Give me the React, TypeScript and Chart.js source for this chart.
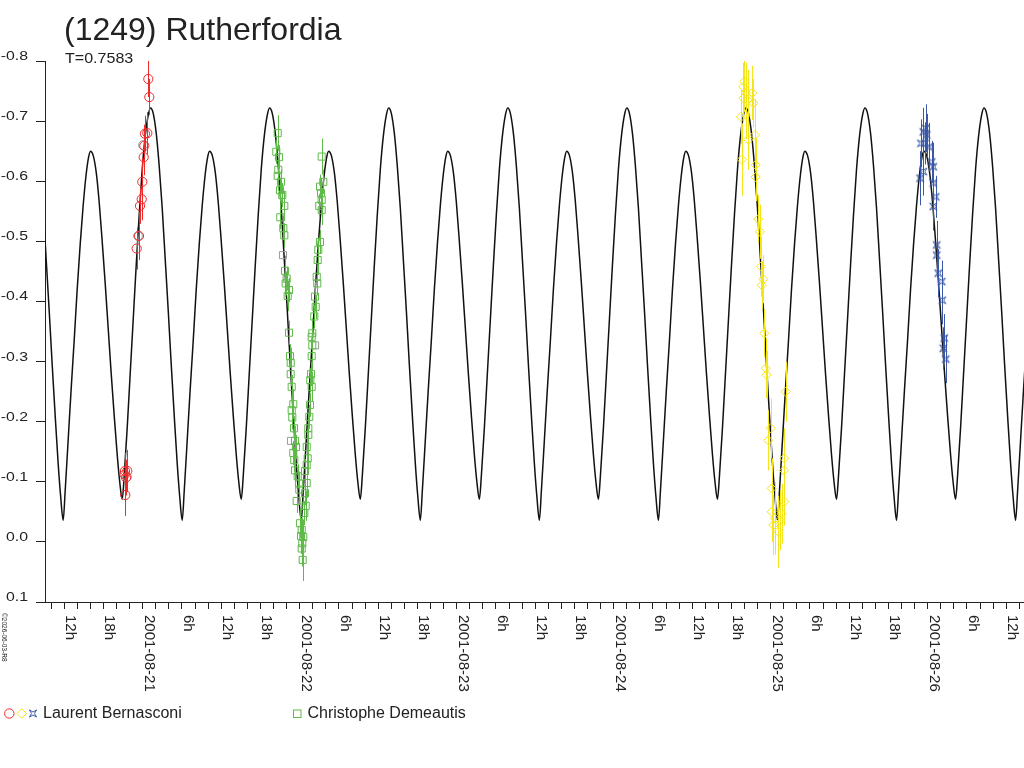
import React, { useEffect, useRef } from "react";
import { Chart, registerables } from "chart.js";

Chart.register(...registerables);

// ---------- texts ----------
const TITLE = "(1249) Rutherfordia";
const PERIOD_LABEL = "T=0.7583";
const OBSERVER_1 = "Laurent Bernasconi";
const OBSERVER_2 = "Christophe Demeautis";
const STAMP = "©2026-06-03-R8";
const DATE_PREFIX = "2001-08-";

// ---------- axes (x in days of August 2001, UT) ----------
const X_MIN = 20.3777;
const X_MAX = 26.6134;
const X_TICK_STEP_HOURS = 2;
const X_LABEL_EVERY_HOURS = 6;
const Y_MIN = -0.8;
const Y_MAX = 0.1;
const Y_TICKS = [-0.8, -0.7, -0.6, -0.5, -0.4, -0.3, -0.2, -0.1, 0.0, 0.1];
const Y_TICK_LABELS = ["-0.8", "-0.7", "-0.6", "-0.5", "-0.4", "-0.3", "-0.2", "-0.1", "0.0", "0.1"];

// ---------- fitted lightcurve: one-period profile ----------
const PERIOD = 0.7583; // days
const EPOCH = 20.4935; // a deep minimum
const CYCLE_FIRST = -1;
const CYCLE_LAST = 8;
const CURVE_PHASE = [
  0, 0.0168, 0.042, 0.0672, 0.0924, 0.1176, 0.1429, 0.168, 0.1933, 0.2143, 0.2294,
  0.2521, 0.2773, 0.3025, 0.3277, 0.3529, 0.3782, 0.4034, 0.4286, 0.4538, 0.4748, 0.4958,
  0.5126, 0.5378, 0.563, 0.5882, 0.6134, 0.6387, 0.6639, 0.6891, 0.7143, 0.7336,
  0.7563, 0.7815, 0.8067, 0.8319, 0.8571, 0.8824, 0.9076, 0.9328, 0.958, 0.979,
];
const CURVE_MAG = [
  -0.036, -0.085, -0.17, -0.255, -0.335, -0.42, -0.495, -0.56, -0.612, -0.641, -0.65,
  -0.643, -0.615, -0.565, -0.5, -0.43, -0.355, -0.28, -0.21, -0.145, -0.1, -0.071,
  -0.11, -0.19, -0.28, -0.37, -0.46, -0.545, -0.62, -0.675, -0.71, -0.722,
  -0.713, -0.68, -0.625, -0.555, -0.47, -0.385, -0.295, -0.21, -0.13, -0.075,
];

// ---------- observations: Laurent Bernasconi (red session) ----------
const RED_T = [21.0357, 21.042, 21.0293, 21.0146, 21.0102, 21.0064, 20.9975, 20.9936, 20.9828, 20.9764, 20.9618, 20.8873, 20.9019, 20.8936, 20.8892, 20.885];
const RED_MAG = [-0.77, -0.74, -0.68, -0.679, -0.659, -0.64, -0.599, -0.57, -0.559, -0.509, -0.488, -0.118, -0.118, -0.107, -0.078, -0.112];
const RED_ERR = [0.03, 0.03, 0.035, 0.03, 0.035, 0.03, 0.04, 0.035, 0.03, 0.04, 0.035, 0.03, 0.035, 0.03, 0.035, 0.03];

// ---------- Laurent Bernasconi (yellow session) ----------
const YELLOW_T = [24.8318, 24.8255, 24.8408, 24.8828, 24.8255, 24.8535, 24.8892, 24.8108, 24.8408, 24.8573, 24.9, 24.8153, 24.9045, 24.9045, 24.921, 24.9318, 24.9382, 24.9529, 24.9427, 24.9592, 24.9682, 24.9745, 25.0955, 25.0, 24.9847, 25.0866, 25.0847, 25.0064, 25.0866, 25.0701, 25.0064, 25.0274, 25.0166, 25.0484, 25.0592];
const YELLOW_MAG = [-0.766, -0.757, -0.747, -0.747, -0.738, -0.735, -0.73, -0.707, -0.71, -0.669, -0.677, -0.636, -0.627, -0.607, -0.537, -0.516, -0.458, -0.437, -0.427, -0.347, -0.289, -0.278, -0.25, -0.189, -0.169, -0.139, -0.119, -0.089, -0.067, -0.047, -0.05, -0.039, -0.028, -0.017, -0.036];
const YELLOW_ERR = [0.05, 0.04, 0.05, 0.045, 0.04, 0.05, 0.04, 0.045, 0.04, 0.05, 0.06, 0.06, 0.045, 0.04, 0.04, 0.045, 0.05, 0.04, 0.04, 0.04, 0.05, 0.04, 0.05, 0.05, 0.05, 0.05, 0.04, 0.05, 0.04, 0.05, 0.05, 0.06, 0.05, 0.06, 0.05];

// ---------- Laurent Bernasconi (blue session) ----------
const BLUE_T = [25.972, 25.9873, 25.9936, 25.9573, 25.9828, 26.0083, 26.0255, 26.0357, 25.951, 25.972, 26.0357, 26.051, 26.0357, 26.0573, 26.0573, 26.0675, 26.0892, 26.093, 26.1057, 26.0994, 26.1146];
const BLUE_MAG = [-0.682, -0.688, -0.677, -0.663, -0.663, -0.657, -0.632, -0.624, -0.605, -0.616, -0.597, -0.574, -0.558, -0.494, -0.477, -0.447, -0.433, -0.402, -0.339, -0.322, -0.304];
const BLUE_ERR = [0.04, 0.04, 0.035, 0.04, 0.035, 0.04, 0.035, 0.04, 0.045, 0.04, 0.04, 0.035, 0.04, 0.04, 0.035, 0.04, 0.035, 0.04, 0.04, 0.035, 0.04];

// ---------- Christophe Demeautis (green) ----------
const GREEN_T = [21.8599, 21.851, 21.8682, 21.8637, 21.8599, 21.8809, 21.8745, 21.8892, 21.9019, 21.8764, 21.8955, 21.9019, 21.9064, 21.9172, 21.9108, 21.9318, 21.9236, 21.9318, 21.9382, 21.9427, 21.9427, 21.949, 21.9592, 21.949, 21.9529, 21.9637, 21.9701, 21.9764, 21.9592, 21.9656, 21.9701, 21.9873, 21.9955, 21.9975, 21.9809, 22.0019, 22.0127, 22.0083, 22.0166, 22.0127, 22.0191, 22.0229, 22.0293, 22.0382, 22.0338, 22.0446, 22.0338, 22.0446, 22.051, 22.0446, 22.0548, 22.0548, 22.0611, 22.0656, 22.0764, 22.0675, 22.072, 22.0764, 22.0803, 22.0764, 22.0803, 22.093, 22.1019, 22.0975, 22.1121, 22.1083, 22.1146, 22.1185, 22.1293, 22.1401, 22.1248, 22.1401, 22.1357, 22.1293, 22.1503, 22.1401];
const GREEN_MAG = [-0.68, -0.649, -0.64, -0.619, -0.609, -0.599, -0.585, -0.577, -0.559, -0.54, -0.522, -0.51, -0.451, -0.438, -0.43, -0.419, -0.409, -0.348, -0.309, -0.298, -0.279, -0.258, -0.229, -0.219, -0.207, -0.189, -0.168, -0.158, -0.148, -0.136, -0.119, -0.109, -0.097, -0.087, -0.068, -0.031, -0.02, -0.01, 0.002, 0.011, 0.03, -0.008, -0.048, -0.06, -0.081, -0.098, -0.118, -0.128, -0.139, -0.158, -0.178, -0.189, -0.208, -0.228, -0.258, -0.269, -0.279, -0.309, -0.327, -0.341, -0.347, -0.375, -0.391, -0.408, -0.43, -0.441, -0.469, -0.486, -0.499, -0.552, -0.559, -0.569, -0.58, -0.591, -0.599, -0.641];
const GREEN_ERR = [0.03, 0.02, 0.02, 0.02, 0.025, 0.02, 0.02, 0.02, 0.025, 0.02, 0.02, 0.02, 0.025, 0.02, 0.02, 0.02, 0.025, 0.02, 0.02, 0.025, 0.02, 0.02, 0.025, 0.02, 0.02, 0.02, 0.025, 0.02, 0.02, 0.02, 0.025, 0.02, 0.02, 0.025, 0.02, 0.025, 0.02, 0.03, 0.025, 0.03, 0.035, 0.025, 0.02, 0.025, 0.02, 0.025, 0.02, 0.02, 0.025, 0.02, 0.02, 0.025, 0.02, 0.02, 0.025, 0.02, 0.02, 0.025, 0.02, 0.02, 0.025, 0.02, 0.02, 0.025, 0.02, 0.02, 0.025, 0.02, 0.02, 0.025, 0.02, 0.02, 0.025, 0.02, 0.02, 0.03];

// ---------- grey (secondary) points ----------
const GREY_CIRCLE_T = [21.0019, 20.9701, 20.9];
const GREY_CIRCLE_MAG = [-0.66, -0.509, -0.108];
const GREY_SQUARE_T = [21.8936, 21.9446, 22.0981];
const GREY_SQUARE_MAG = [-0.477, -0.168, -0.327];

// ---------- style ----------
const FONT = '"Liberation Sans", Arial, Helvetica, sans-serif';
const TEXT = "#222";
const RED = "#ee2b2b";
const YELLOW = "#f4e41a";
const BLUE = "#3a58a8";
const GREEN = "#5fba4a";
const GREY = "#9a9a9a";

const toPoints = (t: number[], m: number[]) => t.map((x, i) => ({ x, y: m[i] }));

function buildCurve() {
  const pts: { x: number; y: number }[] = [];
  for (let k = CYCLE_FIRST; k <= CYCLE_LAST; k++) {
    CURVE_PHASE.forEach((ph, i) => pts.push({ x: EPOCH + (k + ph) * PERIOD, y: CURVE_MAG[i] }));
  }
  pts.push({ x: EPOCH + (CYCLE_LAST + 1) * PERIOD, y: CURVE_MAG[0] });
  return pts;
}

function makeStar(color: string, r: number) {
  const size = Math.ceil(r * 2 + 3);
  const c = document.createElement("canvas");
  c.width = size;
  c.height = size;
  const g = c.getContext("2d")!;
  const cx = size / 2;
  const cy = size / 2;
  const k = r * 0.4;
  g.strokeStyle = color;
  g.lineWidth = 1;
  g.beginPath();
  g.moveTo(cx - r, cy - r);
  g.lineTo(cx, cy - k);
  g.lineTo(cx + r, cy - r);
  g.lineTo(cx + k, cy);
  g.lineTo(cx + r, cy + r);
  g.lineTo(cx, cy + k);
  g.lineTo(cx - r, cy + r);
  g.lineTo(cx - k, cy);
  g.closePath();
  g.stroke();
  return c;
}

const xTickValues = () => {
  const perDay = 24 / X_TICK_STEP_HOURS;
  const out: { value: number }[] = [];
  for (let k = Math.ceil(X_MIN * perDay); k <= Math.floor(X_MAX * perDay); k++) {
    out.push({ value: k / perDay });
  }
  return out;
};

const xLabel = (v: number) => {
  const day = Math.floor(v + 1e-6);
  const hour = Math.round((v - day) * 24);
  if (hour % X_LABEL_EVERY_HOURS !== 0) return "";
  if (hour === 0 || hour === 24) return DATE_PREFIX + String(hour === 24 ? day + 1 : day).padStart(2, "0");
  return hour + "h";
};

const errorBarsPlugin = {
  id: "errorBars",
  beforeDatasetDraw(chart: any, args: any) {
    const ds = chart.data.datasets[args.index];
    if (!ds.errors) return;
    const { ctx, chartArea: ca } = chart;
    const xs = chart.scales.x;
    const ys = chart.scales.y;
    ctx.save();
    ctx.beginPath();
    ctx.rect(ca.left, ca.top, ca.right - ca.left, ca.bottom - ca.top);
    ctx.clip();
    ctx.strokeStyle = ds.borderColor;
    ctx.lineWidth = 1;
    ctx.beginPath();
    ds.data.forEach((p: any, j: number) => {
      const e = ds.errors[j];
      const px = Math.round(xs.getPixelForValue(p.x)) + 0.5;
      ctx.moveTo(px, ys.getPixelForValue(p.y - e));
      ctx.lineTo(px, ys.getPixelForValue(p.y + e));
    });
    ctx.stroke();
    ctx.restore();
  },
};

const axisLabelsPlugin = {
  id: "axisLabels",
  afterDraw(chart: any) {
    const { ctx, chartArea: ca } = chart;
    const xs = chart.scales.x;
    const ys = chart.scales.y;
    ctx.save();
    ctx.fillStyle = TEXT;
    // y labels (wide face)
    ctx.font = `12px ${FONT}`;
    ctx.textAlign = "right";
    ctx.textBaseline = "alphabetic";
    Y_TICKS.forEach((v, i) => {
      const py = ys.getPixelForValue(v);
      ctx.save();
      ctx.translate(28, py - 1);
      ctx.scale(1.32, 1);
      ctx.fillText(Y_TICK_LABELS[i], 0, 0);
      ctx.restore();
    });
    // x labels, rotated clockwise
    ctx.font = `15px ${FONT}`;
    ctx.textAlign = "left";
    xs.ticks.forEach((t: any) => {
      const lab = xLabel(t.value);
      if (!lab) return;
      const px = xs.getPixelForValue(t.value);
      ctx.save();
      ctx.translate(px + 2, ca.bottom + 13);
      ctx.rotate(Math.PI / 2);
      ctx.fillText(lab, 0, 0);
      ctx.restore();
    });
    // stamp
    ctx.font = `6.5px ${FONT}`;
    ctx.save();
    ctx.translate(2, 613);
    ctx.rotate(Math.PI / 2);
    ctx.fillText(STAMP, 0, 0);
    ctx.restore();
    ctx.restore();
  },
};

export default function App() {
  const ref = useRef<HTMLCanvasElement | null>(null);

  useEffect(() => {
    const canvas = ref.current;
    if (!canvas) return;
    const star = makeStar(BLUE, 3.6);
    const scatterBase = { showLine: false, pointBorderWidth: 1, pointBackgroundColor: "rgba(0,0,0,0)", backgroundColor: "rgba(0,0,0,0)" };
    const chart = new Chart(canvas, {
      type: "scatter",
      data: {
        datasets: [
          { ...scatterBase, label: OBSERVER_1, data: toPoints(RED_T, RED_MAG), errors: RED_ERR, borderColor: RED, pointBorderColor: RED, pointStyle: "circle", pointRadius: 4.6, order: 1 } as any,
          { ...scatterBase, label: OBSERVER_1, data: toPoints(YELLOW_T, YELLOW_MAG), errors: YELLOW_ERR, borderColor: YELLOW, pointBorderColor: YELLOW, pointStyle: "rectRot", pointRadius: 4.6, order: 2 } as any,
          { ...scatterBase, label: OBSERVER_1, data: toPoints(BLUE_T, BLUE_MAG), errors: BLUE_ERR, borderColor: BLUE, pointBorderColor: BLUE, pointStyle: star, pointRadius: 4, order: 3 } as any,
          { ...scatterBase, label: OBSERVER_2, data: toPoints(GREEN_T, GREEN_MAG), errors: GREEN_ERR, borderColor: GREEN, pointBorderColor: GREEN, pointStyle: "rect", pointRadius: 5, order: 4 } as any,
          { ...scatterBase, label: "grey1", data: toPoints(GREY_CIRCLE_T, GREY_CIRCLE_MAG), borderColor: GREY, pointBorderColor: GREY, pointStyle: "circle", pointRadius: 4.4, order: 5 } as any,
          { ...scatterBase, label: "grey2", data: toPoints(GREY_SQUARE_T, GREY_SQUARE_MAG), borderColor: GREY, pointBorderColor: GREY, pointStyle: "rect", pointRadius: 5, order: 6 } as any,
          { label: "fit", data: buildCurve(), showLine: true, borderColor: "#111", borderWidth: 1.5, pointRadius: 0, cubicInterpolationMode: "monotone", fill: false, order: 10 } as any,
        ],
      },
      options: {
        animation: false,
        responsive: true,
        maintainAspectRatio: false,
        events: [],
        layout: { autoPadding: false, padding: { top: 61, left: 0, right: 0, bottom: 0 } },
        plugins: { legend: { display: false }, tooltip: { enabled: false }, title: { display: false } },
        scales: {
          x: {
            type: "linear",
            min: X_MIN,
            max: X_MAX,
            afterBuildTicks: (s: any) => { s.ticks = xTickValues(); },
            afterFit: (s: any) => { s.height = 166; },
            ticks: { display: false },
            grid: { display: true, drawOnChartArea: false, drawTicks: true, tickLength: 7, color: "#222", lineWidth: 1 },
            border: { display: true, color: "#222", width: 1 },
          },
          y: {
            type: "linear",
            min: Y_MIN,
            max: Y_MAX,
            reverse: true,
            afterBuildTicks: (s: any) => { s.ticks = Y_TICKS.map((value) => ({ value })); },
            afterFit: (s: any) => { s.width = 45; },
            ticks: { display: false },
            grid: { display: true, drawOnChartArea: false, drawTicks: true, tickLength: 9, color: "#222", lineWidth: 1 },
            border: { display: true, color: "#222", width: 1 },
          },
        },
      } as any,
      plugins: [errorBarsPlugin, axisLabelsPlugin],
    });
    return () => chart.destroy();
  }, []);

  const text = (left: number, top: number, size: number, content: string, extra: any = {}) => (
    <div
      style={{
        position: "absolute",
        left,
        top,
        fontFamily: FONT,
        fontSize: size,
        lineHeight: `${size}px`,
        color: TEXT,
        whiteSpace: "nowrap",
        ...extra,
      }}
    >
      {content}
    </div>
  );

  return (
    <div style={{ position: "fixed", left: 0, top: 0, width: 1024, height: 768, background: "#fff", overflow: "hidden" }}>
      <div style={{ position: "absolute", left: 0, top: 0, width: 1024, height: 768 }}>
        <canvas ref={ref} />
      </div>
      {text(64, 13, 32, TITLE)}
      {text(65, 50, 15, PERIOD_LABEL, { transform: "scaleX(1.07)", transformOrigin: "0 0" })}
      <svg width={310} height={30} style={{ position: "absolute", left: 0, top: 699 }}>
        <circle cx={9.3} cy={14.5} r={4.7} fill="none" stroke={RED} strokeWidth={1} />
        <polygon points="16.9,14.5 21.7,9.7 26.5,14.5 21.7,19.3" fill="none" stroke={YELLOW} strokeWidth={1} />
        <path d="M29.4,10.9 L33,13 L36.6,10.9 L34.5,14.5 L36.6,18.1 L33,16 L29.4,18.1 L31.5,14.5 Z" fill="none" stroke={BLUE} strokeWidth={1} />
        <rect x={293.5} y={11} width={7.5} height={7.5} fill="none" stroke={GREEN} strokeWidth={1} />
      </svg>
      {text(43, 705, 16, OBSERVER_1)}
      {text(307.5, 705, 16, OBSERVER_2)}
    </div>
  );
}
